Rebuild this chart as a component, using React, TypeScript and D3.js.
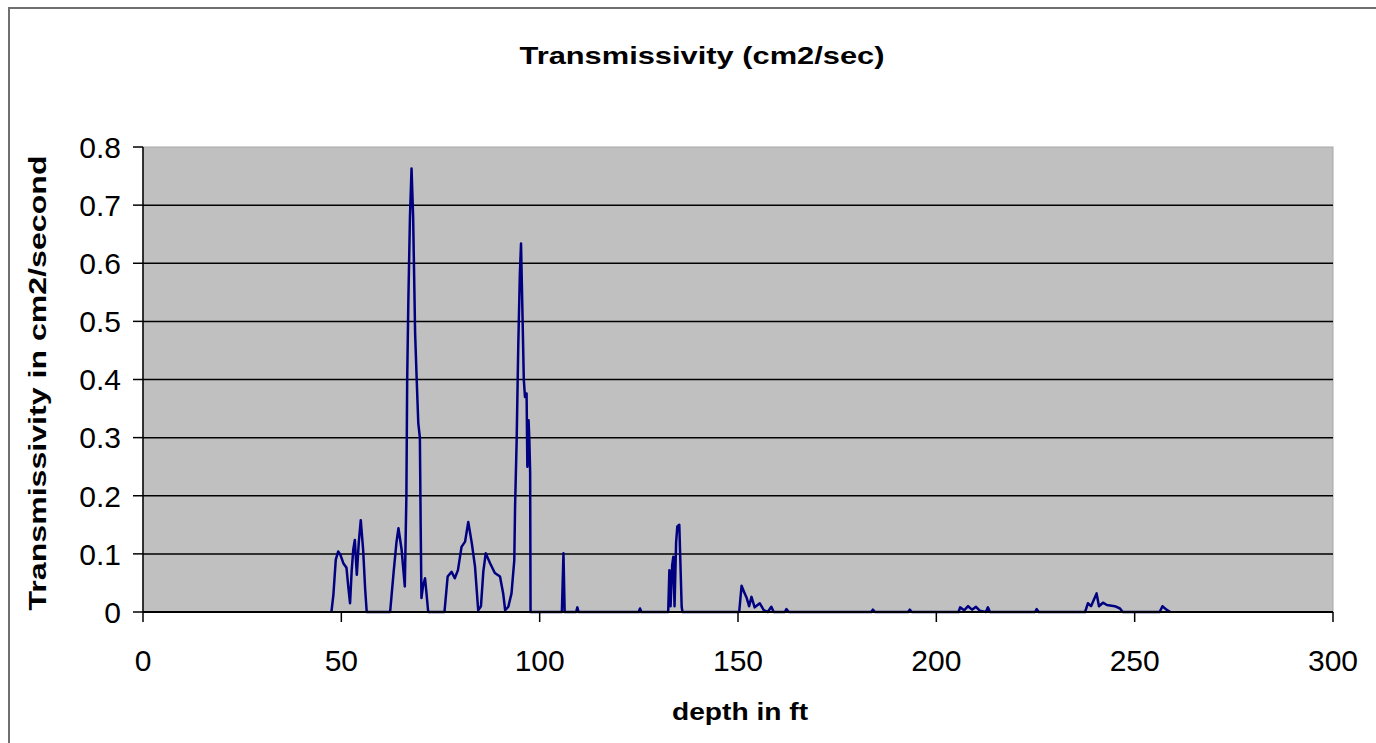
import React from "react";
import * as d3 from "d3";

const depths: number[] = [
  47.5, 48.0, 48.6, 49.2, 49.8, 50.5, 51.3, 51.8, 52.2, 52.6, 53.0, 53.4, 53.9, 54.4, 54.9, 55.5, 56.0, 56.4,
  62.3, 63.2, 63.9, 64.4, 65.2, 66.0, 66.4, 66.6, 66.9, 67.3, 67.7, 68.1, 68.6, 69.0, 69.4, 69.8, 70.0, 70.2, 70.6, 71.1, 71.5, 71.9,
  76.0, 76.8, 77.8, 78.6, 79.4, 80.3, 81.2, 82.0, 82.9, 83.7, 84.5, 85.2, 85.8, 86.4, 87.5, 88.7, 90.0, 90.8, 91.3, 92.1, 92.9, 93.6,
  93.8, 94.2, 94.6, 95.0, 95.3, 95.7, 96.0, 96.3, 96.7, 96.9, 97.2, 97.4, 97.6, 97.7,
  105.6, 106.0, 106.3, 109.2, 109.5, 109.8, 125.0, 125.3, 125.6,
  132.4, 132.7, 133.0, 133.4, 133.7, 134.0, 134.4, 134.7, 135.2, 135.8, 136.0,
  150.3, 150.9, 151.5, 152.2, 152.8, 153.4, 154.2, 155.5, 156.5, 157.5, 158.4, 159.0, 161.8, 162.2, 162.8,
  183.6, 184.0, 184.5, 192.9, 193.3, 193.8, 205.6, 206.0, 207.0, 208.0, 209.0, 210.0, 211.0, 212.5, 213.0, 213.5,
  224.9, 225.3, 225.8,
  237.5, 238.2, 239.0, 240.4, 241.0, 242.0, 243.0, 245.0, 246.3, 247.0, 256.3, 257.0, 258.0, 259.0,
];

const transmissivity: number[] = [
  0, 0.03, 0.09, 0.104, 0.098, 0.084, 0.076, 0.04, 0.015, 0.07, 0.107, 0.124, 0.064, 0.12, 0.158, 0.107, 0.04, 0,
  0, 0.07, 0.12, 0.144, 0.107, 0.044, 0.2, 0.4, 0.537, 0.68, 0.763, 0.68, 0.48, 0.4, 0.325, 0.3, 0.15, 0.024, 0.045, 0.058, 0.03, 0,
  0, 0.061, 0.069, 0.058, 0.072, 0.112, 0.121, 0.155, 0.118, 0.078, 0.003, 0.01, 0.07, 0.101, 0.084, 0.067, 0.061, 0.032, 0.003, 0.009, 0.032, 0.089,
  0.181, 0.296, 0.456, 0.58, 0.634, 0.502, 0.4, 0.37, 0.376, 0.25, 0.33, 0.296, 0.24, 0,
  0, 0.101, 0, 0, 0.008, 0, 0, 0.006, 0,
  0, 0.072, 0.01, 0.08, 0.095, 0.01, 0.12, 0.147, 0.15, 0.009, 0,
  0, 0.045, 0.035, 0.024, 0.01, 0.026, 0.008, 0.015, 0.003, 0, 0.009, 0, 0, 0.005, 0,
  0, 0.004, 0, 0, 0.004, 0, 0, 0.008, 0.003, 0.01, 0.004, 0.009, 0.002, 0, 0.008, 0,
  0, 0.005, 0,
  0, 0.015, 0.01, 0.032, 0.01, 0.016, 0.012, 0.01, 0.006, 0, 0, 0.01, 0.004, 0,
];

const xTicks: number[] = [0, 50, 100, 150, 200, 250, 300];
const yTicks: number[] = [0, 0.1, 0.2, 0.3, 0.4, 0.5, 0.6, 0.7, 0.8];

const title = "Transmissivity (cm2/sec)";
const xTitle = "depth in ft";
const yTitle = "Transmissivity in cm2/second";

export default function App() {
  const W = 1376;
  const H = 743;
  const left = 143;
  const right = 1333;
  const top = 147;
  const bottom = 612;

  const x = d3.scaleLinear().domain([0, 300]).range([left, right]);
  const y = d3.scaleLinear().domain([0, 0.8]).range([bottom, top]);

  const pts = depths.map((d, i) => [d, transmissivity[i]] as [number, number]);
  const line = d3
    .line<[number, number]>()
    .x((p) => x(p[0]))
    .y((p) => y(p[1]))(pts) as string;

  const font = "'Liberation Sans', Arial, sans-serif";

  return (
    <svg
      width={W}
      height={H}
      style={{ position: "absolute", left: 0, top: 0, display: "block", background: "#fff" }}
    >
      <rect x={0} y={0} width={W} height={H} fill="#fff" />
      <rect x={9} y={8} width={W + 20} height={H + 20} fill="none" stroke="#707070" strokeWidth={2} />
      <rect x={left} y={top} width={right - left} height={bottom - top} fill="#c0c0c0" stroke="#a8a8a8" strokeWidth={1} />
      {yTicks
        .filter((t) => t > 0 && t < 0.8)
        .map((t) => (
          <line key={"g" + t} x1={left} x2={right} y1={y(t)} y2={y(t)} stroke="#000" strokeWidth={1.5} />
        ))}
      <path d={line} fill="none" stroke="#000080" strokeWidth={2.5} strokeLinejoin="round" />
      <line x1={left} x2={right} y1={bottom} y2={bottom} stroke="#000" strokeWidth={2.2} />
      <line x1={left} x2={left} y1={top} y2={bottom} stroke="#000" strokeWidth={1.5} />
      {yTicks.map((t) => (
        <g key={"yt" + t}>
          <line x1={left - 10} x2={left} y1={y(t)} y2={y(t)} stroke="#000" strokeWidth={1.5} />
          <text
            x={121}
            y={y(t)}
            dy="0.36em"
            textAnchor="end"
            fontFamily={font}
            fontSize={30}
            fill="#000"
          >
            {d3.format("")(t)}
          </text>
        </g>
      ))}
      {xTicks.map((t) => (
        <g key={"xt" + t}>
          <line x1={x(t)} x2={x(t)} y1={bottom} y2={bottom + 10} stroke="#000" strokeWidth={1.5} />
          <text x={x(t)} y={671} textAnchor="middle" fontFamily={font} fontSize={30} fill="#000">
            {t}
          </text>
        </g>
      ))}
      <text
        x={702}
        y={64}
        textAnchor="middle"
        fontFamily={font}
        fontWeight="bold"
        fontSize={24}
        textLength={365}
        lengthAdjust="spacingAndGlyphs"
        fill="#000"
      >
        {title}
      </text>
      <text
        x={740}
        y={720}
        textAnchor="middle"
        fontFamily={font}
        fontWeight="bold"
        fontSize={24}
        textLength={136}
        lengthAdjust="spacingAndGlyphs"
        fill="#000"
      >
        {xTitle}
      </text>
      <text
        transform={`translate(46, 383) rotate(-90)`}
        textAnchor="middle"
        fontFamily={font}
        fontWeight="bold"
        fontSize={24}
        textLength={455}
        lengthAdjust="spacingAndGlyphs"
        fill="#000"
      >
        {yTitle}
      </text>
    </svg>
  );
}
